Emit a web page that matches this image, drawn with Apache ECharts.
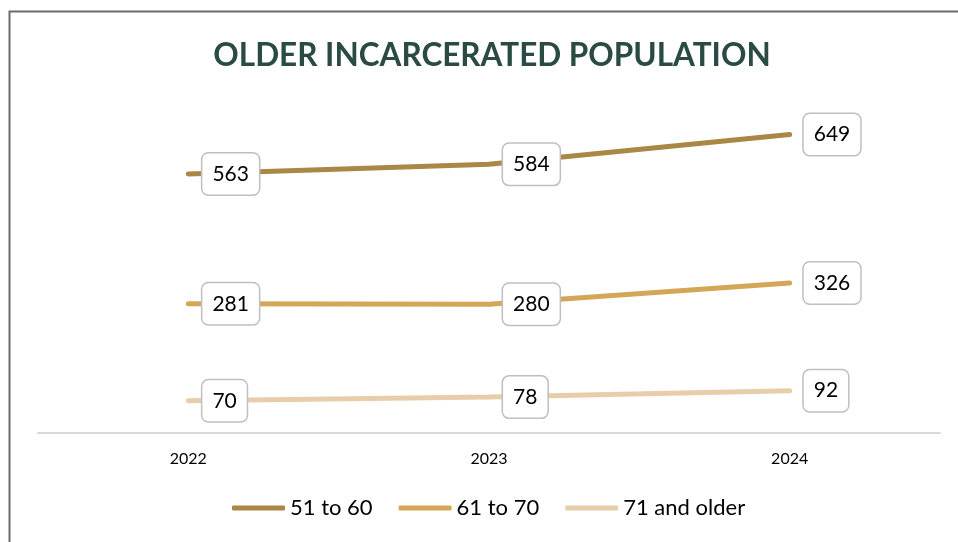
<!DOCTYPE html>
<html>
<head>
<meta charset="utf-8">
<script src="https://cdn.jsdelivr.net/npm/echarts@6/dist/echarts.min.js"></script>
<style>
  html, body { margin: 0; padding: 0; background: #fff; }
  #chart { width: 958px; height: 542px; }
</style>
</head>
<body>
<div id="chart"></div>
<script>
// Yearly counts by age group
const years = ['2022', '2023', '2024'];
const age51to60 = [563, 584, 649];
const age61to70 = [281, 280, 326];
const age71plus = [70, 78, 92];

const seriesNames = ['51 to 60', '61 to 70', '71 and older'];
const seriesColors = ['#A98745', '#D4A758', '#E8CDAB'];
const seriesData = [age51to60, age61to70, age71plus];

const FONT = 'Lato, "Open Sans", sans-serif';

const chart = echarts.init(document.getElementById('chart'));

chart.setOption({
  animation: false,
  backgroundColor: '#ffffff',
  title: {
    text: 'OLDER INCARCERATED POPULATION',
    left: 487,
    textAlign: 'center',
    top: 35,
    textStyle: {
      fontFamily: FONT,
      fontSize: 31.5,
      fontWeight: 'bold',
      color: '#2A4A44'
    }
  },
  graphic: [{
    type: 'rect',
    silent: true,
    shape: { x: 9.5, y: 11.5, width: 1200, height: 1200 },
    style: { fill: null, stroke: '#6b6b6b', lineWidth: 2 }
  }],
  legend: {
    left: 227,
    top: 492,
    icon: 'roundRect',
    itemWidth: 53,
    itemHeight: 5,
    itemGap: 26,
    textStyle: { fontFamily: FONT, fontSize: 22, color: '#000' },
    data: seriesNames
  },
  grid: { left: 38, right: 18, top: 111, bottom: 109 },
  xAxis: {
    type: 'category',
    data: years,
    boundaryGap: true,
    axisLine: { lineStyle: { color: '#d9d9d9', width: 2 } },
    axisTick: { show: false },
    axisLabel: { margin: 18, fontFamily: FONT, fontSize: 16, color: '#000' }
  },
  yAxis: {
    type: 'value',
    min: 0,
    max: 700,
    show: false,
    splitLine: { show: false }
  },
  series: seriesData.map((values, i) => ({
    name: seriesNames[i],
    type: 'line',
    data: values,
    color: seriesColors[i],
    showSymbol: true,
    symbol: 'circle',
    symbolSize: 0.1,
    lineStyle: { width: 5, cap: 'round', color: seriesColors[i] },
    itemStyle: { color: seriesColors[i] },
    z: 2,
    label: {
      show: true,
      position: 'right',
      distance: 14,
      formatter: '{c}',
      fontFamily: FONT,
      fontSize: 21,
      lineHeight: 23,
      color: '#000',
      backgroundColor: '#fff',
      borderColor: '#bfbfbf',
      borderWidth: 1.5,
      borderRadius: 6,
      padding: [9, 10, 9, 10]
    }
  }))
});
</script>
</body>
</html>
